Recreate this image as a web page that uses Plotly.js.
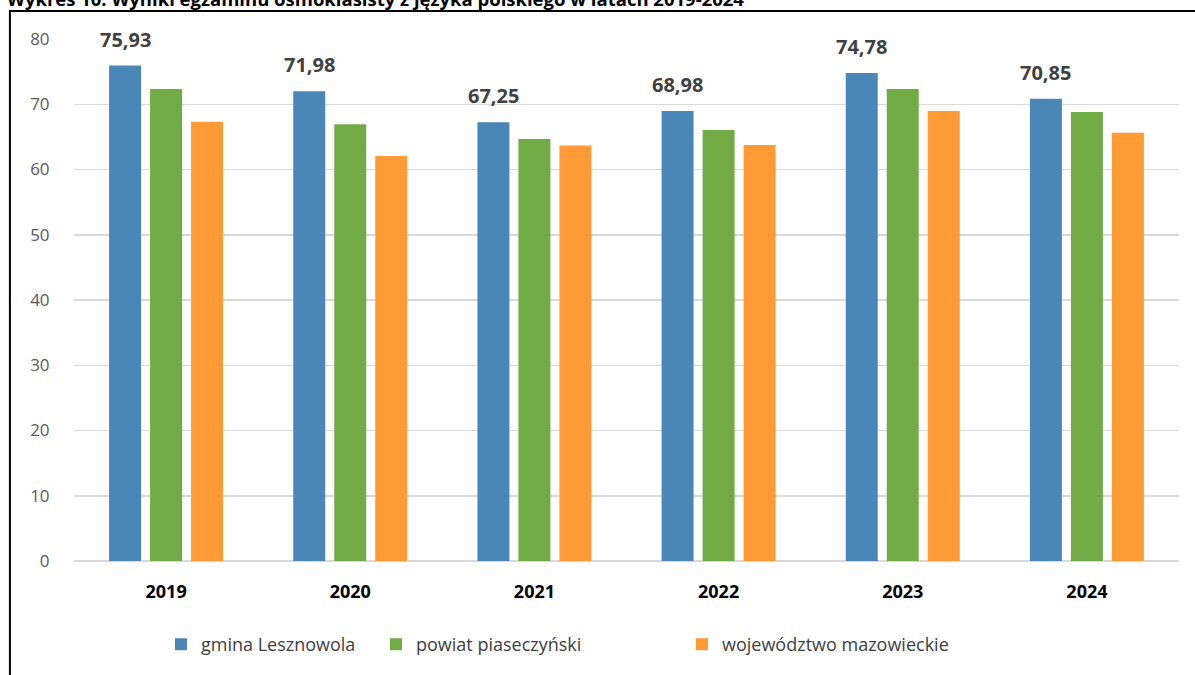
<!DOCTYPE html>
<html>
<head>
<meta charset="utf-8">
<script src="https://cdn.plot.ly/plotly-3.0.1.min.js"></script>
<style>
  html, body { margin: 0; padding: 0; background: #ffffff; }
  #chart { width: 1195px; height: 675px; }
</style>
</head>
<body>
<div id="chart"></div>
<script>
const years = ['2019', '2020', '2021', '2022', '2023', '2024'];
const gmina = [75.93, 71.98, 67.25, 68.98, 74.78, 70.85];
const powiat = [72.35, 66.94, 64.68, 66.07, 72.35, 68.82];
const wojewodztwo = [67.33, 62.08, 63.66, 63.77, 68.97, 65.65];
const seriesNames = ['gmina Lesznowola', 'powiat piaseczyński', 'województwo mazowieckie'];
const titleText = 'Wykres 10. Wyniki egzaminu ósmoklasisty z języka polskiego w latach 2019-2024';

const colors = ['#4A86B8', '#70AB46', '#FF9A35'];
const font = '"Open Sans", "Noto Sans", sans-serif';
const legendIds = ['legend', 'legend2', 'legend3'];
const legendX = [0.0787, 0.2733, 0.5502];

const traces = [gmina, powiat, wojewodztwo].map((vals, i) => ({
  type: 'bar',
  name: seriesNames[i],
  x: years,
  y: vals,
  legend: legendIds[i],
  marker: { color: colors[i] },
  hoverinfo: 'skip'
}));

const labelAnnotations = years.map((yr, i) => ({
  xref: 'x', yref: 'y',
  x: i, y: gmina[i],
  xshift: -41, yshift: 11,
  yanchor: 'bottom', xanchor: 'center',
  showarrow: false,
  text: gmina[i].toFixed(2).replace('.', ','),
  font: { family: font, size: 20, color: '#404040', weight: 'bold' }
}));

function legendCfg(x) {
  return {
    orientation: 'h',
    x: x, xanchor: 'left',
    y: -0.16, yanchor: 'middle',
    bgcolor: 'rgba(0,0,0,0)',
    font: { family: font, size: 18, color: '#404040' }
  };
}

const layout = {
  width: 1195, height: 675,
  margin: { l: 74, r: 16, t: 39, b: 113.6 },
  paper_bgcolor: '#ffffff',
  plot_bgcolor: '#ffffff',
  barmode: 'group',
  bargap: 0.332,
  bargroupgap: 0.22,
  showlegend: true,
  legend: legendCfg(legendX[0]),
  legend2: legendCfg(legendX[1]),
  legend3: legendCfg(legendX[2]),
  xaxis: {
    type: 'category',
    categoryorder: 'array',
    categoryarray: years,
    range: [-0.5, years.length - 0.5],
    autorange: false,
    showgrid: false,
    zeroline: false,
    showline: false,
    ticks: 'outside', ticklen: 14, tickcolor: 'rgba(0,0,0,0)',
    tickfont: { family: font, size: 18, color: '#000000', weight: 'bold' }
  },
  yaxis: {
    range: [0, 80],
    autorange: false,
    dtick: 10,
    showgrid: true,
    gridcolor: '#d9d9d9',
    gridwidth: 1.5,
    zeroline: true,
    zerolinecolor: '#d9d9d9',
    zerolinewidth: 1.5,
    showline: false,
    ticks: 'outside', ticklen: 20, tickcolor: 'rgba(0,0,0,0)',
    tickfont: { family: font, size: 17, color: '#595959' }
  },
  shapes: [{
    type: 'rect', xref: 'paper', yref: 'paper', layer: 'above',
    x0: -0.058, x1: 1.2, y0: -0.4, y1: 1.0536,
    line: { color: '#000000', width: 2 },
    fillcolor: 'rgba(0,0,0,0)'
  }],
  annotations: labelAnnotations.concat([{
    xref: 'paper', yref: 'paper',
    x: -0.0624, y: 1.05,
    xanchor: 'left', yanchor: 'bottom',
    showarrow: false,
    text: titleText,
    font: { family: font, size: 18.5, color: '#000000', weight: 'bold' }
  }])
};

Plotly.newPlot('chart', traces, layout, { displayModeBar: false, staticPlot: true });
</script>
</body>
</html>
